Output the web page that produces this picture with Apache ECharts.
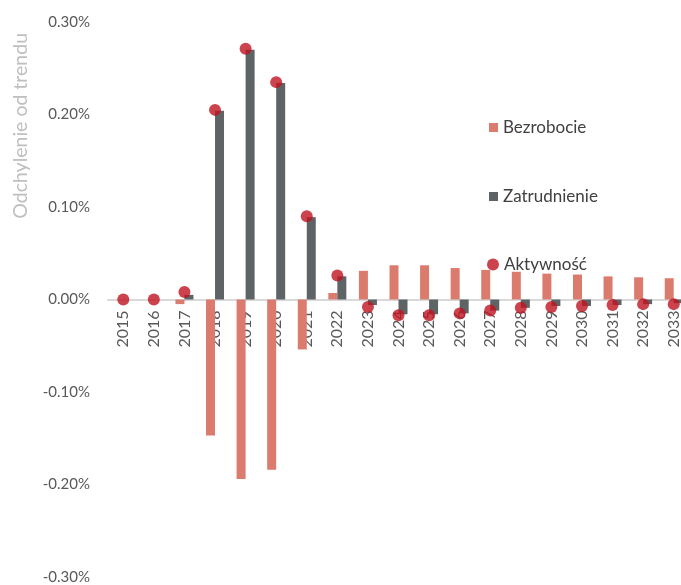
<!DOCTYPE html>
<html>
<head>
<meta charset="utf-8">
<script src="https://cdn.jsdelivr.net/npm/echarts@6/dist/echarts.min.js"></script>
<style>
  html, body { margin: 0; padding: 0; background: #ffffff; }
  #chart { width: 681px; height: 585px; }
</style>
</head>
<body>
<div id="chart"></div>
<script>
// Years on the category axis
const years = ['2015','2016','2017','2018','2019','2020','2021','2022','2023','2024',
               '2025','2026','2027','2028','2029','2030','2031','2032','2033'];

// Deviation from trend, in percent
const bezrobocie = [0, 0, -0.005, -0.147, -0.194, -0.184, -0.054, 0.007, 0.031, 0.037,
                    0.037, 0.034, 0.032, 0.030, 0.028, 0.027, 0.025, 0.024, 0.023];
const zatrudnienie = [0, 0, 0.005, 0.204, 0.270, 0.234, 0.089, 0.025, -0.006, -0.016,
                      -0.016, -0.015, -0.012, -0.009, -0.007, -0.007, -0.006, -0.005, -0.004];
const aktywnosc = [0, 0, 0.008, 0.205, 0.271, 0.235, 0.090, 0.026, -0.008, -0.017,
                   -0.017, -0.015, -0.012, -0.009, -0.008, -0.007, -0.006, -0.005, -0.005];

// Value-axis ticks
const yTicks = { min: -0.3, max: 0.3, step: 0.1 };

const seriesNames = ['Bezrobocie', 'Zatrudnienie', 'Aktywność'];

const FONT = 'Lato, "Open Sans", sans-serif';
const COLORS = { bezrobocie: '#db7b6e', zatrudnienie: '#5e6366', aktywnosc: '#bf1320' };

// Plot box
const GRID = { left: 108, top: 22, width: 581, height: 555 };

const chart = echarts.init(document.getElementById('chart'), null, { renderer: 'canvas' });

const legendText = { fontFamily: FONT, fontSize: 17, color: '#404040' };

// The category axis sits on the zero line: shift it up from the bottom edge
// by the share of the value range that lies below zero.
const zeroOffset = -GRID.height * (0 - yTicks.min) / (yTicks.max - yTicks.min);

chart.setOption({
  animation: false,
  backgroundColor: '#ffffff',
  grid: Object.assign({ containLabel: false, outerBoundsMode: 'none' }, GRID),
  legend: [
    {
      orient: 'vertical',
      left: 484,
      top: 114,
      itemGap: 52,
      itemWidth: 9,
      itemHeight: 9,
      textStyle: legendText,
      data: [
        { name: seriesNames[0], icon: 'rect' },
        { name: seriesNames[1], icon: 'rect' }
      ]
    },
    {
      orient: 'vertical',
      left: 482,
      top: 251,
      itemWidth: 12,
      itemHeight: 12,
      textStyle: legendText,
      data: [{ name: seriesNames[2], icon: 'circle' }]
    }
  ],
  graphic: [{
    type: 'text',
    left: 11,
    top: 33,
    rotation: Math.PI / 2,
    style: {
      text: 'Odchylenie od trendu',
      fontFamily: FONT,
      fontSize: 19.5,
      fill: '#bfbfbf'
    }
  }],
  xAxis: {
    type: 'category',
    data: years,
    position: 'bottom',
    offset: zeroOffset,
    axisLine: { onZero: false, lineStyle: { color: '#d9d9d9', width: 2 } },
    axisTick: { show: false },
    axisLabel: {
      rotate: 90,
      margin: 11,
      fontFamily: FONT,
      fontSize: 16,
      color: '#595959',
      interval: 0
    },
    splitLine: { show: false }
  },
  yAxis: {
    type: 'value',
    min: yTicks.min,
    max: yTicks.max,
    interval: yTicks.step,
    axisLine: { show: false },
    axisTick: { show: false },
    splitLine: { show: false },
    axisLabel: {
      margin: 18,
      fontFamily: FONT,
      fontSize: 15,
      color: '#595959',
      formatter: v => v.toFixed(2) + '%'
    }
  },
  series: [
    {
      name: seriesNames[0],
      type: 'bar',
      data: bezrobocie,
      barWidth: 9,
      barGap: '0%',
      itemStyle: { color: COLORS.bezrobocie },
      z: 2
    },
    {
      name: seriesNames[1],
      type: 'bar',
      data: zatrudnienie,
      barWidth: 9,
      barGap: '0%',
      itemStyle: { color: COLORS.zatrudnienie },
      z: 2
    },
    {
      name: seriesNames[2],
      type: 'scatter',
      data: aktywnosc,
      symbol: 'circle',
      symbolSize: 12,
      itemStyle: { color: COLORS.aktywnosc },
      z: 5
    }
  ]
});
</script>
</body>
</html>
